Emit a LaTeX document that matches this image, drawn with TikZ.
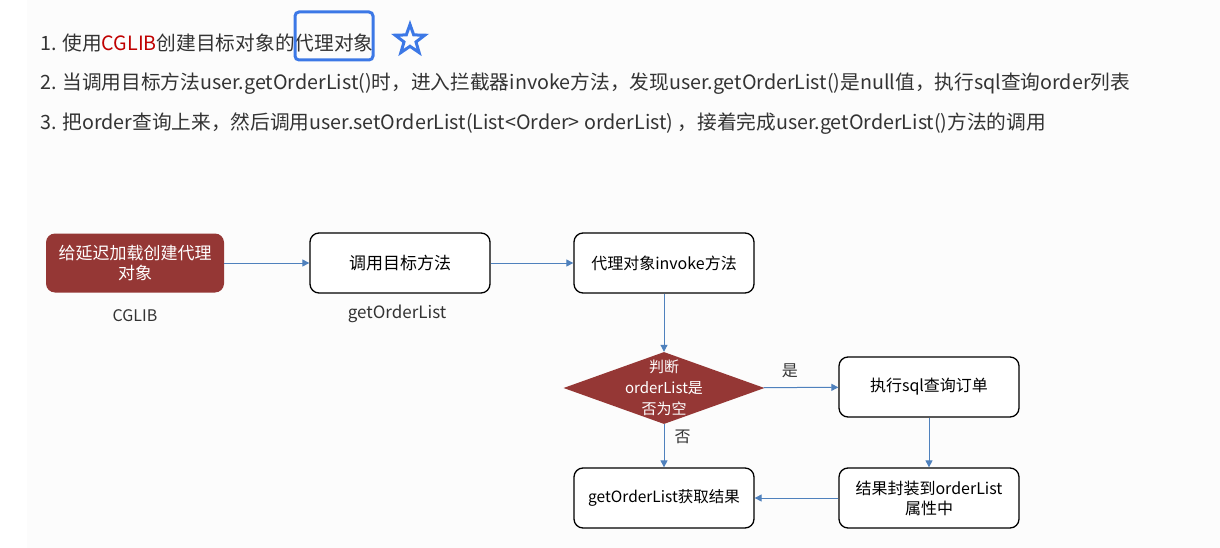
\documentclass[tikz,border=0pt]{standalone}
\usepackage{fontspec}
\setmainfont{Noto Sans CJK SC}
\usetikzlibrary{shapes.geometric,arrows.meta}
\definecolor{txt}{HTML}{333333}
\definecolor{boxred}{HTML}{953735}
\definecolor{arrowblue}{HTML}{4F81BD}
\definecolor{hlblue}{HTML}{3C78E6}
\definecolor{cglibred}{HTML}{C00000}
\definecolor{bg}{HTML}{FCFCFC}
\tikzset{
  x=1pt,y=-1pt,
  line/.style={anchor=west,inner sep=0pt,text=txt,font=\fontsize{19.7}{22}\selectfont},
  procbox/.style={draw=black,line width=1.3pt,rounded corners=9pt,fill=white,minimum width=180pt,minimum height=60pt,inner sep=0pt,align=center,font=\fontsize{16}{20}\selectfont,text=black},
  redbox/.style={fill=boxred,rounded corners=9pt,minimum width=178pt,minimum height=59pt,inner sep=0pt,align=center,font=\fontsize{17}{20}\selectfont,text=white},
  decision/.style={diamond,fill=boxred,minimum width=201pt,minimum height=72pt,inner sep=0pt},
  dectext/.style={inner sep=0pt,align=center,font=\fontsize{15}{21}\selectfont,text=white},
  lbl/.style={inner sep=0pt,text=txt,font=\fontsize{16}{20}\selectfont},
  conn/.style={draw=arrowblue,line width=1pt,-{Triangle[length=7pt,width=7pt]}},
}
\begin{document}
\begin{tikzpicture}
\useasboundingbox (0,0) rectangle (1220,548);
\fill[white] (0,0) rectangle (1220,548);
\fill[bg] (27,0) rectangle (1220,548);

% top text
\node[line] (l1) at (40,43) {1. 使用\textcolor{cglibred}{CGLIB}创建目标对象的代理对象};
\node[line] (l2) at (40,84) {2. 当调用目标方法user.getOrderList()时，进入拦截器invoke方法，发现user.getOrderList()是null值，执行sql查询order列表};
\node[line] (l3) at (40,124) {3. 把order查询上来，然后调用user.setOrderList(List<Order> orderList) ，接着完成user.getOrderList()方法的调用};

% highlight box and star
\draw[hlblue,line width=3pt,rounded corners=4pt] (295,12) rectangle (373,60);
\draw[hlblue,line width=3pt,line join=miter,shift={(410,40)},yscale=-1]
  (90:15.5) -- (126:6.3) -- (162:15.5) -- (198:6.3) -- (234:15.5) -- (270:6.3) -- (306:15.5) -- (342:6.3) -- (18:15.5) -- (54:6.3) -- cycle;

% nodes
\node[redbox] (a) at (135,263) {给延迟加载创建代理\\对象};
\node[lbl] (alab) at (135,316) {CGLIB};
\node[procbox,font=\fontsize{17}{20}\selectfont] (b) at (400,263) {调用目标方法};
\node[lbl,font=\fontsize{17}{20}\selectfont] (blab) at (397,314) {getOrderList};
\node[procbox] (c) at (664,263) {代理对象invoke方法};
\node[decision] (d) at (664,388) {};
\node[dectext] (dt) at (664,388) {判断\\orderList是\\否为空};
\node[procbox] (e) at (929,387) {执行sql查询订单};
\node[procbox] (f) at (929,498) {结果封装到orderList\\属性中};
\node[procbox,font=\fontsize{15.5}{18}\selectfont] (g) at (664,498) {getOrderList获取结果};

% connectors
\draw[conn] (a) -- (b);
\draw[conn] (b) -- (c);
\draw[conn] (c) -- (d);
\draw[conn] (d) -- node[lbl,pos=0.35,above=9pt] (yes) {是} (e);
\draw[conn] (d) -- node[lbl,pos=0.3,right=10pt] (no) {否} (g);
\draw[conn] (e) -- (f);
\draw[conn] (f) -- (g);
\end{tikzpicture}
\end{document}
